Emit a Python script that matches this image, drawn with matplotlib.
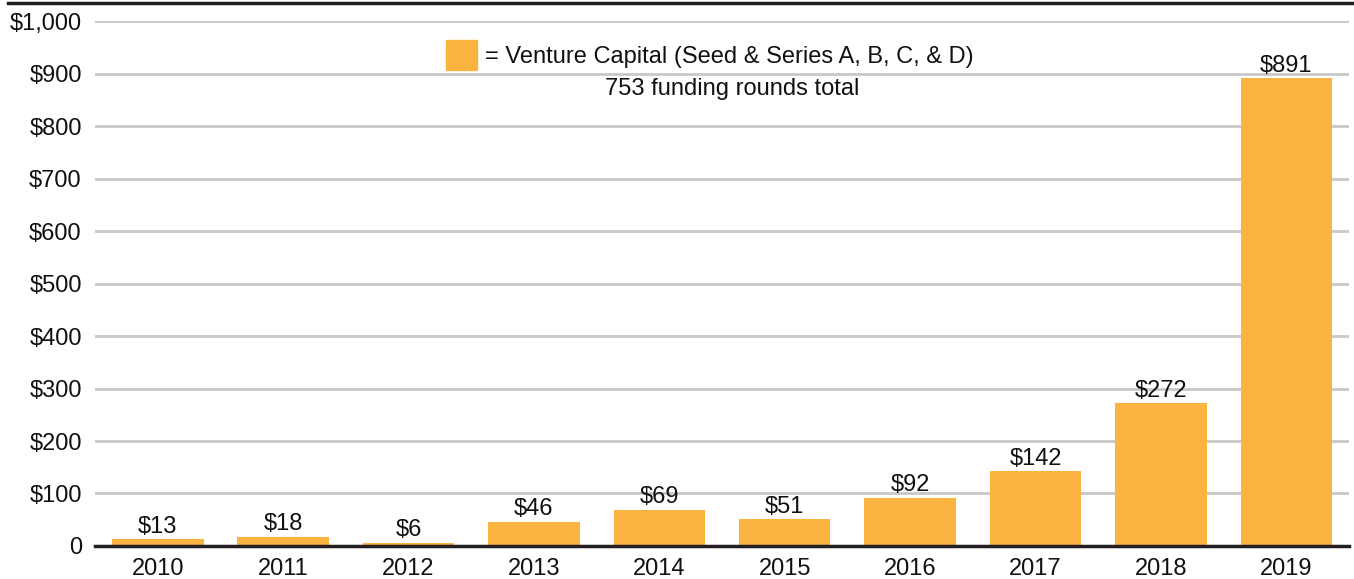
import matplotlib.pyplot as plt
from matplotlib.lines import Line2D
from matplotlib.patches import Rectangle

plt.rcParams['font.family'] = ['Liberation Sans', 'DejaVu Sans']

# data: venture capital funding per year ($M)
years = ['2010', '2011', '2012', '2013', '2014', '2015', '2016', '2017', '2018', '2019']
funding = [13, 18, 6, 46, 69, 51, 92, 142, 272, 891]
yticks = [0, 100, 200, 300, 400, 500, 600, 700, 800, 900, 1000]
ytick_labels = ['0', '$100', '$200', '$300', '$400', '$500', '$600', '$700', '$800', '$900', '$1,000']

bar_color = '#FBB440'
text_color = '#111111'
fs = 17

fig = plt.figure(figsize=(13.54, 5.79), dpi=100)
ax = fig.add_axes([0.0702, 0.057, 0.9261, 0.9067])

x = range(len(years))
ax.bar(x, funding, width=0.73, color=bar_color, zorder=3)

for i, v in zip(x, funding):
    ax.text(i, v + 3, '$' + str(v), ha='center', va='bottom', fontsize=fs, color=text_color)

ax.set_xlim(-0.5, len(years) - 0.5)
ax.set_ylim(0, 1000)
ax.set_yticks(yticks)
ax.set_yticklabels(ytick_labels)
ax.set_xticks(list(x))
ax.set_xticklabels(years)
ax.tick_params(axis='both', length=0, labelsize=fs, labelcolor=text_color)
ax.tick_params(axis='y', pad=9.5)
ax.tick_params(axis='x', pad=9)

ax.grid(axis='y', color='#C8C8C8', linewidth=2, zorder=0)
for s in ['top', 'right', 'left']:
    ax.spines[s].set_visible(False)
ax.spines['bottom'].set_color('#231F20')
ax.spines['bottom'].set_linewidth(2.5)
ax.spines['bottom'].set_zorder(4)

# legend-like annotation
fig.patches.append(Rectangle((446 / 1354, 1 - 70 / 579), 31 / 1354, 30 / 579,
                             transform=fig.transFigure, color=bar_color))
fig.text(485 / 1354, 1 - 57 / 579, '= Venture Capital (Seed & Series A, B, C, & D)',
         ha='left', va='center', fontsize=fs, color=text_color)
fig.text(732 / 1354, 1 - 89 / 579, '753 funding rounds total',
         ha='center', va='center', fontsize=fs, color=text_color)

# dark rule across the top
fig.lines.append(Line2D([8 / 1354, 1], [1 - 2.5 / 579, 1 - 2.5 / 579],
                        transform=fig.transFigure, color='#231F20', linewidth=2.5))

fig.savefig('out.png', dpi=100)
